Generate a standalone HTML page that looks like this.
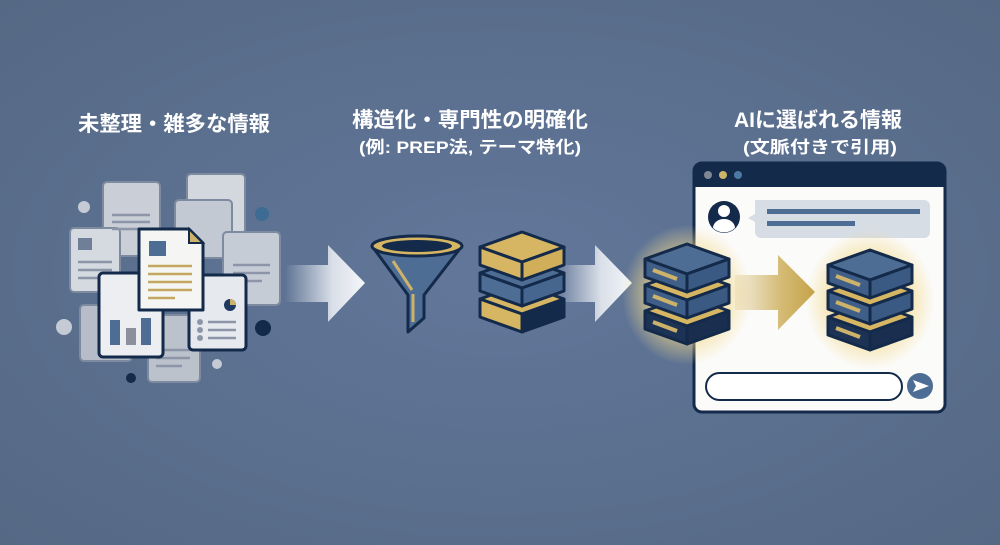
<!DOCTYPE html>
<html><head><meta charset="utf-8"><style>
html,body{margin:0;padding:0;background:#5b6f8c;}
svg{display:block}
text{font-family:"Liberation Sans","Noto Sans CJK JP",sans-serif;font-weight:bold;fill:#fff}
</style></head><body>
<svg width="1000" height="545" viewBox="0 0 1000 545" xmlns="http://www.w3.org/2000/svg">
<defs>
<radialGradient id="bg" cx="50%" cy="50%" r="70%"><stop offset="0" stop-color="#62779a"/><stop offset="1" stop-color="#556985"/></radialGradient>
<linearGradient id="wa" x1="0" x2="1"><stop offset="0" stop-color="#e8ecf2" stop-opacity="0"/><stop offset="0.6" stop-color="#e8ecf2" stop-opacity="0.9"/><stop offset="1" stop-color="#f4f6f9"/></linearGradient>
<linearGradient id="ga" x1="0" x2="1"><stop offset="0" stop-color="#c9a94f" stop-opacity="0.15"/><stop offset="0.6" stop-color="#c9a94f" stop-opacity="0.8"/><stop offset="1" stop-color="#c5a24a"/></linearGradient>
<radialGradient id="glow"><stop offset="0.5" stop-color="#f3d98a" stop-opacity="0.8"/><stop offset="1" stop-color="#f3d98a" stop-opacity="0"/></radialGradient>
<g id="slabBB">
<polygon points="0,0 42,15 0,30 -42,15" fill="#4d6d95" stroke="#142a4a" stroke-width="3" stroke-linejoin="round"/>
<polygon points="-42,15 0,30 0,48 -42,33" fill="#3f5f88" stroke="#142a4a" stroke-width="3" stroke-linejoin="round"/>
<polygon points="0,30 42,15 42,33 0,48" fill="#3a5a83" stroke="#142a4a" stroke-width="3" stroke-linejoin="round"/>
<line x1="-34" y1="26" x2="-10" y2="35" stroke="#cdb26a" stroke-width="4"/>
</g>
<g id="slabB">
<polygon points="0,0 42,15 0,30 -42,15" fill="#d6b663" stroke="#142a4a" stroke-width="3" stroke-linejoin="round"/>
<polygon points="-42,15 0,30 0,48 -42,33" fill="#3f5f88" stroke="#142a4a" stroke-width="3" stroke-linejoin="round"/>
<polygon points="0,30 42,15 42,33 0,48" fill="#3a5a83" stroke="#142a4a" stroke-width="3" stroke-linejoin="round"/>
<line x1="-34" y1="26" x2="-10" y2="35" stroke="#cdb26a" stroke-width="4"/>
</g>
<g id="slabD">
<polygon points="0,0 42,15 0,30 -42,15" fill="#d6b663" stroke="#142a4a" stroke-width="3" stroke-linejoin="round"/>
<polygon points="-42,15 0,30 0,48 -42,33" fill="#1c3356" stroke="#142a4a" stroke-width="3" stroke-linejoin="round"/>
<polygon points="0,30 42,15 42,33 0,48" fill="#1a2f50" stroke="#142a4a" stroke-width="3" stroke-linejoin="round"/>
<line x1="-34" y1="26" x2="-10" y2="35" stroke="#cdb26a" stroke-width="4"/>
</g>
<g id="slabG">
<polygon points="0,0 42,15 0,30 -42,15" fill="#d6b663" stroke="#142a4a" stroke-width="3" stroke-linejoin="round"/>
<polygon points="-42,15 0,30 0,48 -42,33" fill="#d6b663" stroke="#142a4a" stroke-width="3" stroke-linejoin="round"/>
<polygon points="0,30 42,15 42,33 0,48" fill="#d0ae5a" stroke="#142a4a" stroke-width="3" stroke-linejoin="round"/>
</g>
<g id="slabM">
<polygon points="0,0 42,15 0,30 -42,15" fill="#4d6d95" stroke="#142a4a" stroke-width="3" stroke-linejoin="round"/>
<polygon points="-42,15 0,30 0,48 -42,33" fill="#4d6d95" stroke="#142a4a" stroke-width="3" stroke-linejoin="round"/>
<polygon points="0,30 42,15 42,33 0,48" fill="#466690" stroke="#142a4a" stroke-width="3" stroke-linejoin="round"/>
</g>
<g id="slabGD">
<polygon points="0,0 42,15 0,30 -42,15" fill="#d6b663" stroke="#142a4a" stroke-width="3" stroke-linejoin="round"/>
<polygon points="-42,15 0,30 0,48 -42,33" fill="#d6b663" stroke="#142a4a" stroke-width="3" stroke-linejoin="round"/>
<polygon points="0,30 42,15 42,33 0,48" fill="#142a4a" stroke="#142a4a" stroke-width="3" stroke-linejoin="round"/>
</g>
</defs>
<rect width="1000" height="545" fill="url(#bg)"/>

<text x="174" y="131" font-size="21" text-anchor="middle" textLength="192" lengthAdjust="spacingAndGlyphs">未整理・雑多な情報</text>
<text x="470" y="127" font-size="21" text-anchor="middle" textLength="236" lengthAdjust="spacingAndGlyphs">構造化・専門性の明確化</text>
<text x="470" y="153" font-size="17" text-anchor="middle" textLength="222" lengthAdjust="spacingAndGlyphs">(例: PREP法, テーマ特化)</text>
<text x="818" y="127" font-size="21" text-anchor="middle" textLength="168" lengthAdjust="spacingAndGlyphs">AIに選ばれる情報</text>
<text x="820" y="153" font-size="17" text-anchor="middle" textLength="154" lengthAdjust="spacingAndGlyphs">(文脈付きで引用)</text>

<g stroke="#7d8aa0" stroke-width="2">
<rect x="187" y="174" width="58" height="60" rx="4" fill="#d3d7de"/>
<rect x="103" y="182" width="57" height="74" rx="4" fill="#c9ced7"/>
<rect x="175" y="200" width="57" height="58" rx="4" fill="#c3c9d2"/>
<rect x="70" y="228" width="50" height="64" rx="4" fill="#d5d9e0"/>
<rect x="223" y="232" width="57" height="73" rx="4" fill="#c6ccd5"/>
<rect x="80" y="305" width="52" height="56" rx="4" fill="#b7bdc8"/>
<rect x="148" y="315" width="52" height="67" rx="4" fill="#bcc2cc"/>
</g>
<g stroke="#8c96a8" stroke-width="2.5">
<line x1="112" y1="215" x2="150" y2="215"/><line x1="112" y1="222" x2="150" y2="222"/><line x1="112" y1="229" x2="145" y2="229"/>
<line x1="78" y1="262" x2="112" y2="262"/><line x1="78" y1="270" x2="112" y2="270"/><line x1="78" y1="278" x2="105" y2="278"/>
<line x1="233" y1="265" x2="270" y2="265"/><line x1="233" y1="273" x2="270" y2="273"/><line x1="233" y1="281" x2="262" y2="281"/>
<line x1="156" y1="350" x2="190" y2="350"/><line x1="156" y1="358" x2="190" y2="358"/><line x1="156" y1="366" x2="182" y2="366"/>
</g>
<rect x="78" y="238" width="14" height="12" fill="#6f7f98"/>
<rect x="99" y="273" width="64" height="84" rx="4" fill="#eceef2" stroke="#142a4a" stroke-width="3"/>
<rect x="110" y="320" width="10" height="25" fill="#4d6d95"/>
<rect x="126" y="328" width="10" height="17" fill="#8a909c"/>
<rect x="141" y="318" width="10" height="27" fill="#4d6d95"/>
<rect x="189" y="275" width="57" height="75" rx="4" fill="#e6e9ee" stroke="#142a4a" stroke-width="3"/>
<circle cx="230" cy="305" r="6" fill="#1f3a60"/><path d="M230 305 L230 299 A6 6 0 0 1 236 305 Z" fill="#cdb26a"/>
<g fill="#8c96a8"><circle cx="200" cy="322" r="3"/><circle cx="200" cy="330" r="3"/><circle cx="200" cy="338" r="3"/></g>
<g stroke="#8c96a8" stroke-width="2.5"><line x1="208" y1="322" x2="236" y2="322"/><line x1="208" y1="330" x2="236" y2="330"/><line x1="208" y1="338" x2="236" y2="338"/></g>
<path d="M139 229 H189 L203 243 V310 H139 Z" fill="#f5f5f3" stroke="#142a4a" stroke-width="3" stroke-linejoin="round"/>
<path d="M189 229 V243 H203 Z" fill="#cdb26a" stroke="#142a4a" stroke-width="2"/>
<rect x="149" y="241" width="17" height="15" fill="#4d6d95"/>
<g stroke="#c2a85e" stroke-width="2.5"><line x1="148" y1="266" x2="192" y2="266"/><line x1="148" y1="274" x2="192" y2="274"/><line x1="148" y1="282" x2="192" y2="282"/><line x1="148" y1="290" x2="192" y2="290"/><line x1="148" y1="298" x2="175" y2="298"/></g>
<circle cx="84" cy="207" r="6" fill="#c5cbd5"/>
<circle cx="262" cy="214" r="7" fill="#3d6b94"/>
<circle cx="64" cy="327" r="8" fill="#c5cbd5"/>
<circle cx="263" cy="328" r="8" fill="#142a4a"/>
<circle cx="217" cy="364" r="5" fill="#c5cbd5"/>
<circle cx="131" cy="378" r="5" fill="#142a4a"/>

<polygon points="285,265 328,265 328,245 365,283 328,322 328,302 285,302" fill="url(#wa)"/>
<polygon points="555,265 595,265 595,245 632,283 595,322 595,302 555,302" fill="url(#wa)"/>

<path d="M372 246 L408 295 L408 332 L424 318 L424 295 L462 246 Z" fill="#4d6d95" stroke="#142a4a" stroke-width="3" stroke-linejoin="round"/>
<ellipse cx="417" cy="246" rx="45" ry="10" fill="#d6b663" stroke="#142a4a" stroke-width="3"/>
<ellipse cx="417" cy="246" rx="35" ry="6" fill="#142a4a"/>
<path d="M393 261 L412 290 M413 294 V322" stroke="#cdb26a" stroke-width="3" fill="none"/>

<use href="#slabGD" x="522" y="284"/>
<use href="#slabM" x="522" y="258"/>
<use href="#slabG" x="522" y="232"/>

<rect x="694" y="163" width="251" height="249" rx="8" fill="#fbfbfa" stroke="#142a4a" stroke-width="3"/>
<path d="M694 187 V171 a8 8 0 0 1 8 -8 H937 a8 8 0 0 1 8 8 V187 Z" fill="#142a4a"/>
<circle cx="708" cy="175" r="4" fill="#7f8794"/><circle cx="723" cy="175" r="4" fill="#cdb26a"/><circle cx="738" cy="175" r="4" fill="#4d7aa5"/>
<circle cx="724" cy="217" r="16" fill="#142a4a"/>
<circle cx="724" cy="211" r="6" fill="#fff"/><path d="M713 228 a11 9 0 0 1 22 0 a16 16 0 0 1 -22 0Z" fill="#fff"/>
<path d="M755 200 H924 a6 6 0 0 1 6 6 V232 a6 6 0 0 1 -6 6 H761 a6 6 0 0 1 -6 -6 V222 L748 218 L755 214 Z" fill="#d7dde5"/>
<rect x="767" y="209" width="153" height="5" fill="#4d6d95"/>
<rect x="767" y="221" width="88" height="5" fill="#4d6d95"/>
<rect x="706" y="373" width="196" height="27" rx="13.5" fill="#fff" stroke="#142a4a" stroke-width="2"/>
<circle cx="920" cy="386" r="13" fill="#4d6d95"/>
<polygon points="913,380 929,386 913,392 916,386" fill="#fff"/>

<ellipse cx="687" cy="295" rx="65" ry="70" fill="url(#glow)"/>
<ellipse cx="870" cy="300" rx="65" ry="70" fill="url(#glow)"/>
<polygon points="735,275 778,275 778,255 815,292 778,330 778,310 735,310" fill="url(#ga)"/>
<use href="#slabD" x="687" y="296"/>
<use href="#slabB" x="687" y="270"/>
<use href="#slabBB" x="687" y="244"/>
<use href="#slabD" x="870" y="302"/>
<use href="#slabB" x="870" y="276"/>
<use href="#slabBB" x="870" y="250"/>
</svg>
</body></html>
